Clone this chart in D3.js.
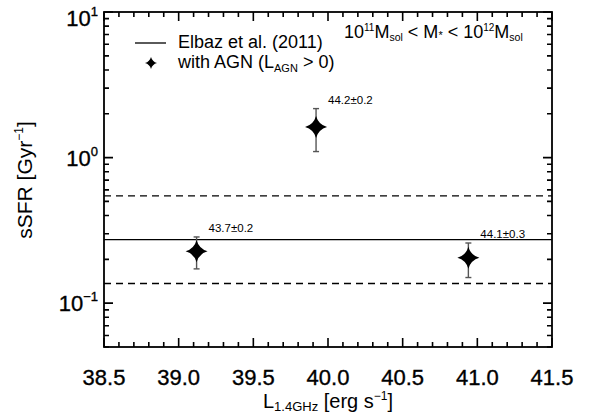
<!DOCTYPE html>
<html>
<head>
<meta charset="utf-8">
<script src="https://cdn.jsdelivr.net/npm/d3@7"></script>
<style>
  body { margin: 0; background: #fff; }
  text { font-family: "Liberation Sans", Arial, sans-serif; fill: #000; }
</style>
</head>
<body>
<script>
// data
const xVals = [39.12, 39.92, 40.94];
const yVals = [0.227, 1.62, 0.205];
const yErrLo = [0.172, 1.10, 0.150];
const yErrHi = [0.285, 2.17, 0.259];
const pointLabels = ["43.7\u00b10.2", "44.2\u00b10.2", "44.1\u00b10.3"];

const elbaz = 0.273;           // solid line
const elbazBand = [0.5465, 0.1365]; // dashed lines (x2, /2)

const xMajor = [38.5, 39.0, 39.5, 40.0, 40.5, 41.0, 41.5];
const xMinor = [38.6, 38.7, 38.8, 38.9, 39.1, 39.2, 39.3, 39.4, 39.6, 39.7, 39.8, 39.9,
                40.1, 40.2, 40.3, 40.4, 40.6, 40.7, 40.8, 40.9, 41.1, 41.2, 41.3, 41.4];
const yMajor = [0.1, 1, 10];
const yMajorExp = ["\u22121", "0", "1"];
const yMinor = [0.05, 0.06, 0.07, 0.08, 0.09, 0.2, 0.3, 0.4, 0.5, 0.6, 0.7, 0.8, 0.9,
                2, 3, 4, 5, 6, 7, 8, 9];

const W = 596, H = 414;
const mLeft = 104, mRight = 552, mTop = 12, mBottom = 347;

const svg = d3.select("body").append("svg")
  .attr("width", W).attr("height", H);

const x = d3.scaleLinear().domain([38.5, 41.5]).range([mLeft, mRight]);
const y = d3.scaleLog().domain([0.05, 10]).range([mBottom, mTop]);

// 4-point star marker
const star = {
  draw(ctx, size) {
    const r = Math.sqrt(size), k = r * 0.22;
    ctx.moveTo(0, -r);
    ctx.quadraticCurveTo(k, -k, r, 0);
    ctx.quadraticCurveTo(k, k, 0, r);
    ctx.quadraticCurveTo(-k, k, -r, 0);
    ctx.quadraticCurveTo(-k, -k, 0, -r);
    ctx.closePath();
  }
};

// frame
svg.append("rect")
  .attr("x", mLeft).attr("y", mTop)
  .attr("width", mRight - mLeft).attr("height", mBottom - mTop)
  .attr("fill", "none").attr("stroke", "#000").attr("stroke-width", 1.8);

// inward ticks on all four sides, one path
const tp = d3.path();
function addX(vals, len) {
  vals.forEach(v => {
    tp.moveTo(x(v), mBottom); tp.lineTo(x(v), mBottom - len);
    tp.moveTo(x(v), mTop); tp.lineTo(x(v), mTop + len);
  });
}
function addY(vals, len) {
  vals.forEach(v => {
    tp.moveTo(mLeft, y(v)); tp.lineTo(mLeft + len, y(v));
    tp.moveTo(mRight, y(v)); tp.lineTo(mRight - len, y(v));
  });
}
addX(xMajor, 9);
addX(xMinor, 5);
addY(yMajor, 9);
addY(yMinor, 5);
svg.append("path").attr("d", tp.toString())
  .attr("fill", "none").attr("stroke", "#000").attr("stroke-width", 1.6);

// x tick labels
svg.selectAll(".xl").data(xMajor).enter().append("text")
  .attr("x", d => x(d)).attr("y", 385)
  .attr("text-anchor", "middle").attr("font-size", 22)
  .attr("stroke", "#000").attr("stroke-width", 0.35)
  .text(d3.format(".1f"));

// y tick labels 10^n
yMajor.forEach((v, i) => {
  const t = svg.append("text")
    .attr("x", mLeft - 6).attr("y", Math.max(y(v) + 8, 26))
    .attr("text-anchor", "end").attr("font-size", 22)
    .attr("stroke", "#000").attr("stroke-width", 0.35);
  t.append("tspan").text("10");
  t.append("tspan").attr("dy", -10).attr("font-size", 13).text(yMajorExp[i]);
});

// axis titles
const xt = svg.append("text").attr("x", 328).attr("y", 408)
  .attr("text-anchor", "middle").attr("font-size", 20);
xt.append("tspan").text("L");
xt.append("tspan").attr("dy", 3).attr("font-size", 13).text("1.4GHz");
xt.append("tspan").attr("dy", -3).text(" [erg s");
xt.append("tspan").attr("dy", -8).attr("font-size", 12).text("\u22121");
xt.append("tspan").attr("dy", 8).text("]");

const yt = svg.append("text")
  .attr("transform", `translate(32,180) rotate(-90)`)
  .attr("text-anchor", "middle").attr("font-size", 21);
yt.append("tspan").text("sSFR [Gyr");
yt.append("tspan").attr("dy", -9).attr("font-size", 12).text("\u22121");
yt.append("tspan").attr("dy", 9).text("]");

// reference lines
svg.append("line")
  .attr("x1", mLeft).attr("x2", mRight)
  .attr("y1", y(elbaz)).attr("y2", y(elbaz))
  .attr("stroke", "#000").attr("stroke-width", 1.3);
svg.selectAll(".band").data(elbazBand).enter().append("line")
  .attr("x1", mLeft).attr("x2", mRight)
  .attr("y1", d => y(d)).attr("y2", d => y(d))
  .attr("stroke", "#000").attr("stroke-width", 1.3)
  .attr("stroke-dasharray", "7,5");

// error bars
const eb = svg.append("g").attr("stroke", "#555").attr("stroke-width", 1.4);
xVals.forEach((xv, i) => {
  eb.append("line").attr("x1", x(xv)).attr("x2", x(xv))
    .attr("y1", y(yErrLo[i])).attr("y2", y(yErrHi[i]));
  [yErrLo[i], yErrHi[i]].forEach(v => {
    eb.append("line").attr("x1", x(xv) - 3).attr("x2", x(xv) + 3)
      .attr("y1", y(v)).attr("y2", y(v));
  });
});

// star markers
svg.selectAll(".pt").data(xVals).enter().append("path")
  .attr("d", d3.symbol().type(star).size(121))
  .attr("transform", (d, i) => `translate(${x(d)},${y(yVals[i])})`)
  .attr("fill", "#000");

// point labels
svg.selectAll(".lbl").data(xVals).enter().append("text")
  .attr("x", d => x(d) + 12)
  .attr("y", (d, i) => y(yErrHi[i]) - 5)
  .attr("font-size", 11.5)
  .text((d, i) => pointLabels[i]);

// legend
svg.append("line").attr("x1", 135).attr("x2", 166).attr("y1", 43).attr("y2", 43)
  .attr("stroke", "#000").attr("stroke-width", 1.3);
svg.append("text").attr("x", 178).attr("y", 48).attr("font-size", 18)
  .text("Elbaz et al. (2011)");
svg.append("path").attr("d", d3.symbol().type(star).size(36))
  .attr("transform", "translate(151,63)").attr("fill", "#000");
const lg = svg.append("text").attr("x", 178).attr("y", 68).attr("font-size", 18);
lg.append("tspan").text("with AGN (L");
lg.append("tspan").attr("dy", 4).attr("font-size", 11).text("AGN");
lg.append("tspan").attr("dy", -4).text(" > 0)");

// mass bin note
const mt = svg.append("text").attr("x", 344).attr("y", 38).attr("font-size", 18);
mt.append("tspan").text("10");
mt.append("tspan").attr("dy", -7).attr("font-size", 10).text("11");
mt.append("tspan").attr("dy", 7).text("M");
mt.append("tspan").attr("dy", 3).attr("font-size", 10.5).text("sol");
mt.append("tspan").attr("dy", -3).text(" < M");
mt.append("tspan").attr("dy", 1).attr("font-size", 11).text("*");
mt.append("tspan").attr("dy", -1).text(" < 10");
mt.append("tspan").attr("dy", -7).attr("font-size", 10).text("12");
mt.append("tspan").attr("dy", 7).text("M");
mt.append("tspan").attr("dy", 3).attr("font-size", 10.5).text("sol");
</script>
</body>
</html>
